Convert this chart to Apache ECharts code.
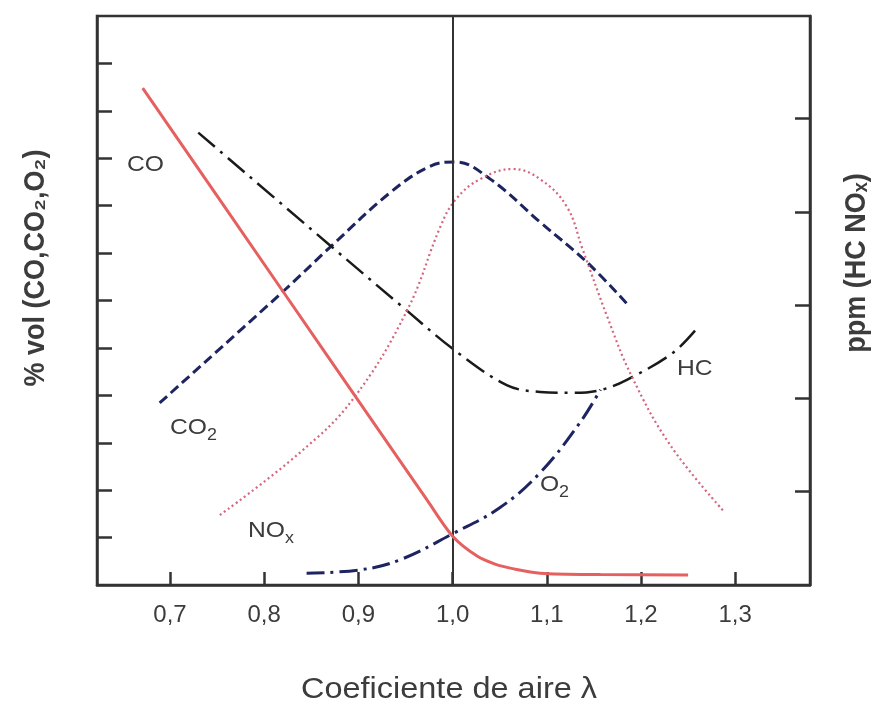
<!DOCTYPE html>
<html>
<head>
<meta charset="utf-8">
<script src="https://cdn.jsdelivr.net/npm/echarts@6/dist/echarts.min.js"></script>
<style>
html,body{margin:0;padding:0;background:#fff;}
#c{width:881px;height:707px;}
</style>
</head>
<body>
<div id="c"></div>
<script>
// Tick positions / labels
const xTicks = [0.7, 0.8, 0.9, 1.0, 1.1, 1.2, 1.3];
const leftTicks = [1, 2, 3, 4, 5, 6, 7, 8, 9, 10, 11];
const rightTicks = [1, 2, 3, 4, 5];

// CO (% vol, left axis)
const coLambda = [0.671, 0.695, 0.820, 0.912, 0.973, 1.000, 1.026, 1.045, 1.065, 1.093, 1.157, 1.250];
const coVol    = [10.48, 9.79, 6.19, 3.54, 1.79, 1.03, 0.61, 0.44, 0.34, 0.25, 0.22, 0.21];

// CO2 (% vol, left axis)
const co2Lambda = [0.689, 0.820, 0.873, 0.934, 0.976, 1.003, 1.040, 1.093, 1.143, 1.186];
const co2Vol    = [3.84, 6.19, 7.18, 8.28, 8.83, 8.92, 8.56, 7.65, 6.80, 5.91];

// O2 (% vol, left axis)
const o2Lambda = [0.845, 0.902, 0.944, 1.000, 1.050, 1.093, 1.135, 1.157];
const o2Vol    = [0.25, 0.32, 0.53, 1.08, 1.63, 2.37, 3.42, 4.12];

// HC (ppm, right axis)
const hcLambda = [0.730, 0.870, 0.947, 1.003, 1.058, 1.093, 1.128, 1.157, 1.185, 1.234, 1.261];
const hcPpm    = [4.85, 3.64, 2.98, 2.51, 2.14, 2.07, 2.06, 2.09, 2.20, 2.49, 2.77];

// NOx (ppm, right axis)
const noxLambda = [0.753, 0.838, 0.894, 0.952, 0.987, 1.003, 1.029, 1.064, 1.093, 1.121, 1.138, 1.164, 1.190, 1.231, 1.287];
const noxPpm    = [0.75, 1.42, 1.99, 2.95, 3.84, 4.13, 4.35, 4.46, 4.35, 4.06, 3.60, 2.88, 2.24, 1.50, 0.80];

const zip = (a, b) => a.map((x, i) => [x, b[i]]);

const AX = '#333';
const TXT = '#3c3c3c';
const FONT = 'Liberation Sans, Arial, sans-serif';
const SX = 1.12; // horizontal stretch of the original lettering

const chart = echarts.init(document.getElementById('c'), null, {renderer: 'canvas'});

function lbl(x, y, main, sub, size) {
  const children = [{
    type: 'text', x: 0, y: 0,
    style: {text: main, font: size + 'px ' + FONT, fill: TXT, textVerticalAlign: 'middle', textAlign: 'left'}
  }];
  if (sub) {
    children.push({
      type: 'text', x: sub.dx, y: 8,
      style: {text: sub.t, font: Math.round(size * 0.72) + 'px ' + FONT, fill: TXT, textVerticalAlign: 'middle', textAlign: 'left'}
    });
  }
  return {type: 'group', x: x, y: y, scaleX: SX, children: children};
}

const option = {
  animation: false,
  backgroundColor: '#fff',
  grid: {left: 97, right: 71, top: 16, bottom: 122, show: true, borderColor: AX, borderWidth: 2.5, containLabel: false, outerBoundsMode: 'none'},
  xAxis: {
    type: 'value', min: 0.6225, max: 1.3794,
    axisLine: {show: true, onZero: false, lineStyle: {color: AX, width: 2.5}},
    axisTick: {show: true, inside: true, length: 13, customValues: xTicks, lineStyle: {color: AX, width: 2.5}},
    axisLabel: {show: true, customValues: xTicks, margin: 18, color: TXT, fontSize: 24, fontFamily: FONT,
      formatter: v => v.toFixed(1).replace('.', ',')},
    splitLine: {show: false}
  },
  yAxis: [{
    type: 'value', min: 0, max: 12, interval: 1, position: 'left',
    axisLine: {show: true, lineStyle: {color: AX, width: 2.5}},
    axisTick: {show: true, inside: true, length: 15, customValues: leftTicks, lineStyle: {color: AX, width: 2.5}},
    axisLabel: {show: false},
    splitLine: {show: false}
  }, {
    type: 'value', min: 0, max: 6.1, interval: 1, position: 'right',
    axisLine: {show: true, lineStyle: {color: AX, width: 2.5}},
    axisTick: {show: true, inside: true, length: 15, customValues: rightTicks, lineStyle: {color: AX, width: 2.5}},
    axisLabel: {show: false},
    splitLine: {show: false}
  }],
  series: [
    {
      name: 'CO', type: 'line', yAxisIndex: 0, data: zip(coLambda, coVol),
      showSymbol: false, symbol: 'none', smooth: 0.3, z: 5,
      lineStyle: {color: '#e5605f', width: 3, type: 'solid'},
      markLine: {
        silent: true, symbol: ['none', 'none'], label: {show: false},
        lineStyle: {color: '#333', width: 2, type: 'solid'},
        data: [{xAxis: 1.0}]
      }
    },
    {
      name: 'CO2', type: 'line', yAxisIndex: 0, data: zip(co2Lambda, co2Vol),
      showSymbol: false, symbol: 'none', smooth: 0.4,
      lineStyle: {color: '#1e2460', width: 3, type: [10, 5]}
    },
    {
      name: 'O2', type: 'line', yAxisIndex: 0, data: zip(o2Lambda, o2Vol),
      showSymbol: false, symbol: 'none', smooth: 0.4,
      lineStyle: {color: '#1e2460', width: 3, type: [18, 6, 3, 6]}
    },
    {
      name: 'HC', type: 'line', yAxisIndex: 1, data: zip(hcLambda, hcPpm),
      showSymbol: false, symbol: 'none', smooth: 0.35,
      lineStyle: {color: '#1a1a1a', width: 2.5, type: [22, 7, 3, 7]}
    },
    {
      name: 'NOx', type: 'line', yAxisIndex: 1, data: zip(noxLambda, noxPpm),
      showSymbol: false, symbol: 'none', smooth: 0.4,
      lineStyle: {color: '#d3667c', width: 2.2, type: [2, 3]}
    }
  ],
  graphic: [
    lbl(127, 165, 'CO', null, 22),
    lbl(170, 428, 'CO', {t: '2', dx: 33}, 22),
    lbl(248, 531, 'NO', {t: 'x', dx: 33}, 22),
    lbl(540, 485, 'O', {t: '2', dx: 17}, 22),
    lbl(677, 369, 'HC', null, 22),
    {
      type: 'text', x: 449, y: 690, scaleX: SX,
      style: {text: 'Coeficiente de aire λ', font: '29px ' + FONT, fill: TXT, textAlign: 'center', textVerticalAlign: 'middle'}
    },
    {
      type: 'text', x: 36, y: 268, rotation: Math.PI / 2, scaleY: 1.08,
      style: {text: '% vol (CO,CO₂,O₂)', font: 'bold 27px ' + FONT, fill: TXT, textAlign: 'center', textVerticalAlign: 'middle'}
    },
    {
      type: 'text', x: 857, y: 263, rotation: Math.PI / 2, scaleY: 1.08,
      style: {text: 'ppm (HC NOₓ)', font: 'bold 27px ' + FONT, fill: TXT, textAlign: 'center', textVerticalAlign: 'middle'}
    }
  ]
};
chart.setOption(option);
</script>
</body>
</html>
